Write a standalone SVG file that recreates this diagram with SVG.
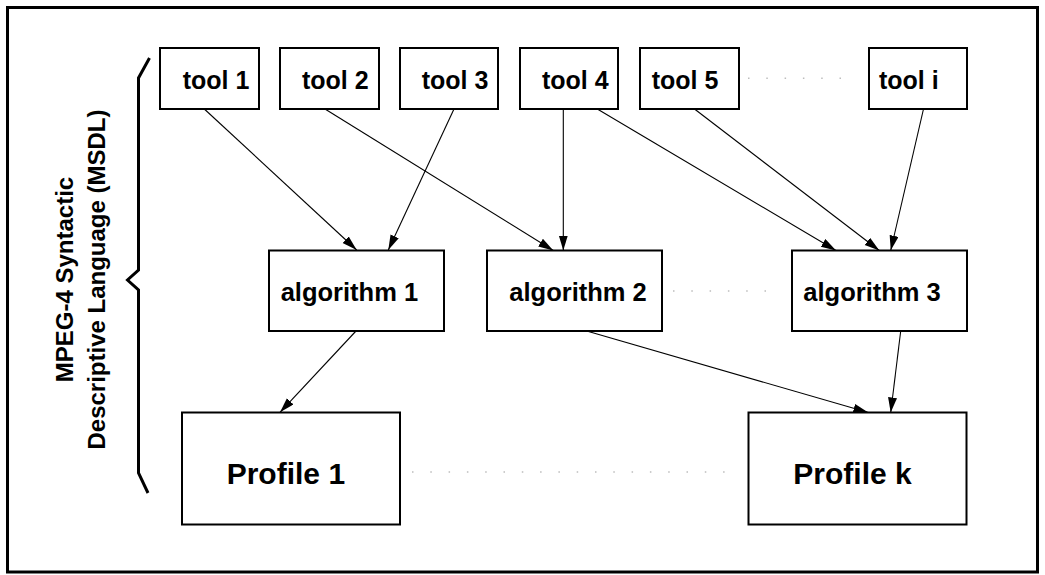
<svg xmlns="http://www.w3.org/2000/svg" width="1045" height="575" viewBox="0 0 1045 575">
<style>
.box{fill:#fff;stroke:#000;stroke-width:2}
.t{font-family:"Liberation Sans",Arial,sans-serif;font-weight:bold;fill:#000}
.tool{font-size:25px}
.alg{font-size:25.5px}
.prof{font-size:30px}
.lab{font-size:24px}
.conn line{stroke:#000;stroke-width:1.1;fill:none}
.dots{stroke:#bdbdbd;stroke-width:1.5;stroke-dasharray:1.5 16.8;fill:none}
</style>
<defs>
<marker id="ah" markerUnits="userSpaceOnUse" markerWidth="16" markerHeight="10" refX="15" refY="4.5" orient="auto">
<path d="M0,0 L15,4.5 L0,9 z" fill="#000"/>
</marker>
</defs>
<rect width="1045" height="575" fill="#fff"/>
<rect x="7.5" y="7.5" width="1030" height="564.5" fill="none" stroke="#000" stroke-width="3"/>

<g id="bracket">
<path d="M149.5,58 L138.5,78 L138.5,270 L127.5,280 L138.5,290 L138.5,473 L148,493" fill="none" stroke="#000" stroke-width="3" stroke-linejoin="miter"/>
</g>
<g id="msdl-label">
<text class="t lab" text-anchor="middle" transform="translate(73,279.5) rotate(-90)">MPEG-4 Syntactic</text>
<text class="t lab" text-anchor="middle" transform="translate(105,279.5) rotate(-90)">Descriptive Language (MSDL)</text>
</g>

<g id="tool1"><rect class="box" x="160" y="48" width="99" height="61"/><text class="t tool" x="182.7" y="89.3">tool 1</text></g>
<g id="tool2"><rect class="box" x="280" y="48" width="99" height="61"/><text class="t tool" x="302" y="89.3">tool 2</text></g>
<g id="tool3"><rect class="box" x="400" y="48" width="98" height="61"/><text class="t tool" x="421.7" y="89.3">tool 3</text></g>
<g id="tool4"><rect class="box" x="520" y="48" width="98" height="61"/><text class="t tool" x="542" y="89.3">tool 4</text></g>
<g id="tool5"><rect class="box" x="640" y="48" width="99" height="61"/><text class="t tool" x="651.7" y="89.3">tool 5</text></g>
<g id="tooli"><rect class="box" x="869" y="48" width="98" height="61"/><text class="t tool" x="879" y="89.3">tool i</text></g>

<g id="algorithm1"><rect class="box" x="269" y="250.5" width="175" height="80.5"/><text class="t alg" x="280.7" y="300.7">algorithm 1</text></g>
<g id="algorithm2"><rect class="box" x="487" y="250.5" width="175" height="80.5"/><text class="t alg" x="509.3" y="300.7">algorithm 2</text></g>
<g id="algorithm3"><rect class="box" x="792" y="250.5" width="175" height="80.5"/><text class="t alg" x="803.3" y="300.7">algorithm 3</text></g>

<g id="profile1"><rect class="box" x="182" y="412.5" width="218" height="112"/><text class="t prof" x="226.7" y="484.3">Profile 1</text></g>
<g id="profilek"><rect class="box" x="748.5" y="412.5" width="218" height="112"/><text class="t prof" x="793.3" y="484.3">Profile k</text></g>

<g id="ellipses">
<line class="dots" x1="748" y1="78.3" x2="843" y2="78.3"/>
<line class="dots" x1="673" y1="291" x2="767" y2="291"/>
<line class="dots" x1="412" y1="472" x2="726" y2="472"/>
</g>

<g id="connectors" class="conn">
<line x1="204.3" y1="109" x2="356.7" y2="250" marker-end="url(#ah)"/>
<line x1="454" y1="109" x2="388.3" y2="250" marker-end="url(#ah)"/>
<line x1="325" y1="109" x2="553.3" y2="250.5" marker-end="url(#ah)"/>
<line x1="563.3" y1="109" x2="563.3" y2="250.5" marker-end="url(#ah)"/>
<line x1="597.3" y1="109" x2="836" y2="250.5" marker-end="url(#ah)"/>
<line x1="694.5" y1="109" x2="879.3" y2="250.5" marker-end="url(#ah)"/>
<line x1="923.5" y1="109" x2="890.7" y2="250.5" marker-end="url(#ah)"/>
<line x1="356" y1="331" x2="280" y2="412.3" marker-end="url(#ah)"/>
<line x1="586.7" y1="331" x2="868.3" y2="412.5" marker-end="url(#ah)"/>
<line x1="900.7" y1="331" x2="890.7" y2="412.5" marker-end="url(#ah)"/>
</g>
</svg>
